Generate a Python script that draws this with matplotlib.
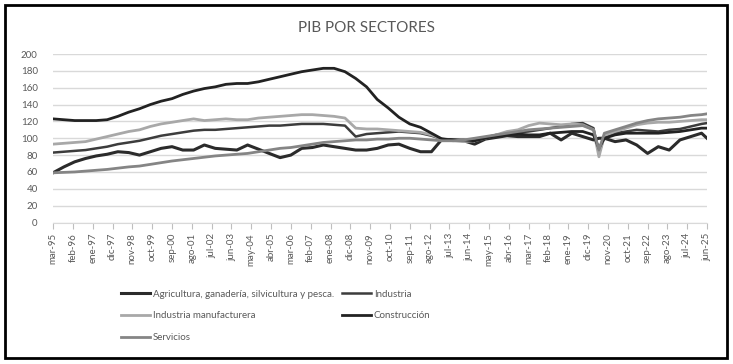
import matplotlib
matplotlib.use("Agg")
import matplotlib.pyplot as plt
import pandas as pd
from matplotlib.patches import Rectangle

# fechas semestrales (mar / sep) + caida jun-20 + final
semi = [f"{y}-{m:02d}" for y in range(1995, 2025) for m in (3, 9)]
dates = pd.to_datetime(sorted(semi + ["2020-06", "2025-03", "2025-06"]))

agricultura = [59, 66, 72, 76, 79, 81, 84, 83, 80, 84,
               88, 90, 86, 86, 92, 88, 87, 86, 92, 87,
               82, 77, 80, 88, 89, 92, 90, 88, 86, 86,
               88, 92, 93, 88, 84, 84, 99, 98, 97, 93,
               99, 101, 103, 102, 102, 102, 106, 98, 106, 102,
               98, 100, 100, 96, 98, 92, 82, 90, 86, 98,
               102, 106, 100]
industria = [83, 84, 85, 86, 88, 90, 93, 95, 97, 100,
             103, 105, 107, 109, 110, 110, 111, 112, 113, 114,
             115, 115, 116, 117, 117, 117, 116, 115, 102, 105,
             106, 107, 108, 107, 106, 103, 99, 98, 97, 98,
             101, 104, 106, 107, 108, 110, 112, 114, 117, 118,
             112, 82, 102, 106, 108, 110, 109, 108, 110, 111,
             114, 117, 118]
manufacturera = [93, 94, 95, 96, 99, 102, 105, 108, 110, 114,
                 117, 119, 121, 123, 121, 122, 123, 122, 122, 124,
                 125, 126, 127, 128, 128, 127, 126, 124, 112, 111,
                 111, 110, 109, 108, 107, 104, 99, 97, 96, 97,
                 100, 104, 108, 110, 115, 118, 117, 116, 117, 116,
                 110, 78, 103, 108, 112, 116, 118, 119, 119, 120,
                 121, 122, 122]
construccion = [123, 122, 121, 121, 121, 122, 126, 131, 135, 140,
                144, 147, 152, 156, 159, 161, 164, 165, 165, 167,
                170, 173, 176, 179, 181, 183, 183, 179, 171, 161,
                146, 136, 125, 117, 113, 106, 99, 98, 98, 97,
                100, 103, 104, 105, 104, 104, 106, 107, 108, 108,
                104, 88, 100, 104, 106, 106, 106, 106, 107, 108,
                110, 112, 112]
servicios = [59, 59.5, 60, 61, 62, 63, 64.5, 66, 67, 69,
             71, 73, 74.5, 76, 77.5, 79, 80, 81, 82, 84,
             86, 88, 89, 91, 93, 95, 96, 97, 98, 98,
             99, 99, 100, 100, 99, 98, 97, 97, 98, 100,
             102, 104, 106, 108, 110, 111, 112, 113, 114, 115,
             110, 86, 106, 110, 114, 118, 121, 123, 124, 125,
             127, 128, 129]

tick_labels = ["mar-95", "feb-96", "ene-97", "dic-97", "nov-98", "oct-99",
               "sep-00", "ago-01", "jul-02", "jun-03", "may-04", "abr-05",
               "mar-06", "feb-07", "ene-08", "dic-08", "nov-09", "oct-10",
               "sep-11", "ago-12", "jul-13", "jun-14", "may-15", "abr-16",
               "mar-17", "feb-18", "ene-19", "dic-19", "nov-20", "oct-21",
               "sep-22", "ago-23", "jul-24", "jun-25"]
tick_pos = pd.date_range("1995-03-01", periods=len(tick_labels), freq="11MS")

plt.rcParams["font.family"] = ["Lato", "DejaVu Sans"]
txt = "#595959"

fig = plt.figure(figsize=(7.33, 3.64), dpi=100)
ax = fig.add_axes([53 / 733, 1 - 222.5 / 364, 654 / 733, 168.5 / 364])

l_agr, = ax.plot(dates, agricultura, color="#2b2b2b", lw=2.2)
l_ind, = ax.plot(dates, industria, color="#3c3c3c", lw=1.8)
l_man, = ax.plot(dates, manufacturera, color="#a8a8a8", lw=2)
l_con, = ax.plot(dates, construccion, color="#222222", lw=2)
l_ser, = ax.plot(dates, servicios, color="#858585", lw=2)

ax.set_ylim(0, 200)
ax.set_yticks(range(0, 201, 20))
ax.set_xlim(pd.Timestamp("1995-03-01"), pd.Timestamp("2025-06-01"))
ax.set_xticks(tick_pos)
ax.set_xticklabels(tick_labels, rotation=90)
ax.grid(axis="y", color="#d9d9d9", lw=1)
ax.set_axisbelow(True)
for s in ["top", "right", "left"]:
    ax.spines[s].set_visible(False)
ax.spines["bottom"].set_color("#d9d9d9")
ax.tick_params(axis="y", length=0, labelsize=7, colors=txt, pad=11)
ax.tick_params(axis="x", length=4, color="#bfbfbf", labelsize=7, labelcolor=txt)

fig.text(0.5, 1 - 28 / 364, "PIB POR SECTORES", ha="center", va="center",
         fontsize=11, color=txt)

handles = [l_agr, l_man, l_ser, l_ind, l_con]
labels = ["Agricultura, ganadería, silvicultura y pesca.", "Industria manufacturera",
          "Servicios", "Industria", "Construcción"]
fig.legend(handles, labels, ncol=2, loc="upper left",
           bbox_to_anchor=(112 / 733, 1 - 281 / 364), frameon=False,
           fontsize=7, labelcolor=txt, handlelength=3, handletextpad=0.3,
           columnspacing=0.8, labelspacing=1.3)

fig.add_artist(Rectangle((5 / 733, 6 / 364), 722 / 733, 353 / 364,
                         transform=fig.transFigure, fill=False,
                         edgecolor="black", lw=2))

fig.savefig("out.png", dpi=100)
